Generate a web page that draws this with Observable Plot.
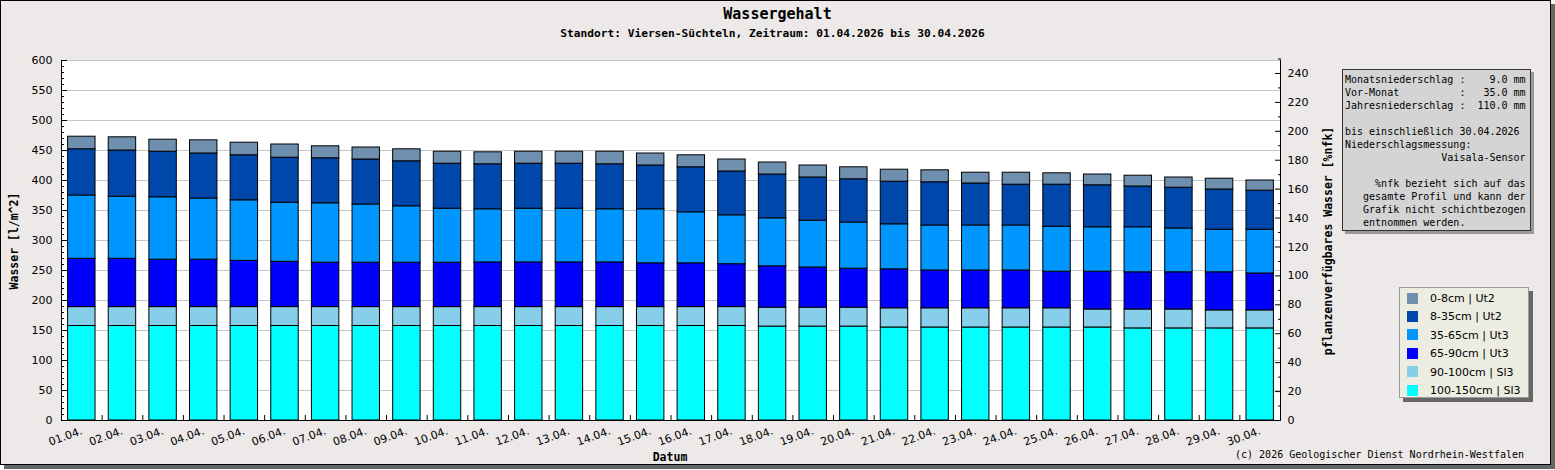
<!DOCTYPE html>
<html><head><meta charset="utf-8">
<script src="https://cdn.jsdelivr.net/npm/d3@7"></script>
<script src="https://cdn.jsdelivr.net/npm/@observablehq/plot@0.6"></script>
<style>
body{margin:0;background:#fff;}
#wrap{position:relative;width:1555px;height:470px;overflow:hidden;}
#frame{position:absolute;left:0;top:0;width:1549px;height:463px;border:1px solid #000;background:#ece9e8;box-shadow:4px 4px 0 #666;}
#wrap svg{position:absolute;left:0;top:0;}
.abs{position:absolute;white-space:pre;}
.mono{font-family:"DejaVu Sans Mono",monospace;color:#000;}
#title{left:0;width:1555px;top:6px;text-align:center;font-weight:bold;font-size:15px;line-height:16px;padding-left:0px;}
#subtitle{left:0;width:1545px;top:27px;text-align:center;font-weight:bold;font-size:11.2px;line-height:14px;}
#ylab{left:14px;top:241px;transform:translate(-50%,-50%) rotate(-90deg);font-weight:bold;font-size:11.5px;line-height:14px;}
#y2lab{left:1328px;top:241px;transform:translate(-50%,-50%) rotate(-90deg);font-weight:bold;font-size:11.5px;line-height:14px;}
#xlab{left:670px;top:457px;transform:translate(-50%,-50%);font-weight:bold;font-size:11.5px;line-height:14px;}
#copy{right:31px;top:455px;transform:translateY(-50%);font-size:10px;line-height:12px;}
#info{left:1342px;top:69px;width:187px;height:160px;border:1px solid #333;background:#d4d4d4;box-shadow:3px 3px 0 #9a9a9a;font-size:10px;line-height:13px;padding:3px 0 0 2px;box-sizing:border-box;width:189px;height:162px;}
#legend{left:1399px;top:287px;width:130px;height:111px;box-sizing:border-box;border:1px solid #9a9a9a;background:#ecece1;box-shadow:4px 4px 0 #666;}
.li{position:absolute;left:7px;height:18px;font-family:"DejaVu Sans",sans-serif;font-size:11px;line-height:18px;color:#000;white-space:nowrap;}
.sw{display:inline-block;width:11px;height:11px;vertical-align:middle;margin-right:12px;position:relative;top:-1px;}
</style>
</head><body>
<div id="wrap"><div id="frame"></div></div>
<script>
// ---- data ----
const dateLabels = ["01.04.","02.04.","03.04.","04.04.","05.04.","06.04.","07.04.","08.04.","09.04.","10.04.",
  "11.04.","12.04.","13.04.","14.04.","15.04.","16.04.","17.04.","18.04.","19.04.","20.04.",
  "21.04.","22.04.","23.04.","24.04.","25.04.","26.04.","27.04.","28.04.","29.04.","30.04."];
// layer names & colours, legend order (top layer first)
const layerNames = ["0-8cm | Ut2","8-35cm | Ut2","35-65cm | Ut3","65-90cm | Ut3","90-100cm | Sl3","100-150cm | Sl3"];
const layerColors = ["#6e8fae","#0047ab","#0096ff","#0000ff","#87ceeb","#00ffff"];
// water per layer [l/m^2]
const w0_8    = [21,22,20,22,21,22,20,20,20,20,20,20,20,21,20,20,20,20,20,20,20,20,18,20,19,18,18,17,18,17];
const w8_35   = [77,77,76,75,75,75,75,75,75,75,75,75,75,75,73,75,73,73,72,72,71,72,70,68,70,70,68,68,67,65];
const w35_65  = [105.5,103.5,104,102,101,98.5,99,97,94,90,88.5,89.5,89.5,88.5,90,85,81.5,80,78,77,75,75,75,75,75,74,75,73,71,73];
const w65_90  = [80.5,80.5,79,79,77,75.5,74,74,74,74,74.5,74.5,74.5,74.5,73,73,71.5,69,67,65,65,63,63,63,61,63,62,62,63.5,61.5];
const w90_100 = [31.5,31.5,31.5,31.5,31.5,31.5,31.5,31.5,31.5,31.5,31.5,31.5,31.5,31.5,31.5,31.5,31.5,31.5,31.5,31.5,32,32,32,32,32,30,31.5,31.5,30,30];
const w100_150= [157.5,157.5,157.5,157.5,157.5,157.5,157.5,157.5,157.5,157.5,157.5,157.5,157.5,157.5,157.5,157.5,157.5,156.5,156.5,156.5,155,155,155,155,155,155,153.5,153.5,153.5,153.5];
const layerValues = [w0_8, w8_35, w35_65, w65_90, w90_100, w100_150];
// axis ticks
const yMajor = [0,50,100,150,200,250,300,350,400,450,500,550,600];
const nfkMajor = [0,20,40,60,80,100,120,140,160,180,200,220,240];
const nfkPerWater = 2.41; // 1 %nfk corresponds to 2.41 l/m^2 on the left scale
const infoLines = [
  "Monatsniederschlag :    9.0 mm",
  "Vor-Monat          :   35.0 mm",
  "Jahresniederschlag :  110.0 mm",
  "",
  "bis einschließlich 30.04.2026",
  "Niederschlagsmessung:",
  "                Vaisala-Sensor",
  "",
  "     %nfk bezieht sich auf das",
  "   gesamte Profil und kann der",
  "   Grafik nicht schichtbezogen",
  "   entnommen werden."
];

// ---- table (bottom layer first for stacking) ----
const days = dateLabels.map((_, i) => i + 1);
const table = [];
for (let k = layerNames.length - 1; k >= 0; --k) {
  days.forEach((d, i) => table.push({day: d, layer: layerNames[k], value: layerValues[k][i]}));
}
const yMinor = d3.range(10, 600, 10).filter(v => v % 50 !== 0);
const nfkMinor = d3.range(10, 260, 20);
const boundaries = days.slice(0, -1).map(d => d + 0.5);

const chart = Plot.plot({
  width: 1555, height: 470,
  marginLeft: 61, marginRight: 275, marginTop: 60, marginBottom: 50,
  x: {domain: [0.5, 30.5]},
  y: {domain: [0, 600]},
  color: {domain: layerNames, range: layerColors},
  style: {background: "transparent", fontFamily: "DejaVu Sans, sans-serif", fontSize: "11px", color: "#000", overflow: "visible"},
  marks: [
    Plot.frame({fill: "white", stroke: "none"}),
    Plot.gridY(yMajor.slice(1), {stroke: "#c6c6c6", strokeOpacity: 1}),
    Plot.rectY(table, Plot.stackY({x: "day", x1: d => d.day - 0.5, x2: d => d.day + 0.5, y: "value", fill: "layer", stroke: "black", strokeWidth: 1, insetLeft: 6.6, insetRight: 6.6})),
    Plot.ruleY([0], {stroke: "black"}),
    Plot.ruleX([0.5, 30.5], {stroke: "black"}),
    Plot.axisY(yMajor, {anchor: "left", tickSize: -6, tickPadding: 15, label: null}),
    Plot.axisY(yMinor, {anchor: "left", tickSize: -3, fill: "none", label: null}),
    Plot.axisY(nfkMajor.map(v => v * nfkPerWater), {anchor: "right", tickSize: -6, tickPadding: 13, tickFormat: d => String(Math.round(d / nfkPerWater)), label: null}),
    Plot.axisY(nfkMinor.map(v => v * nfkPerWater), {anchor: "right", tickSize: -3, fill: "none", label: null}),
    Plot.axisX(days, {anchor: "bottom", tickSize: 0, tickPadding: 10, tickRotate: -20, tickFormat: d => dateLabels[d - 1], label: null}),
    Plot.axisX(boundaries, {anchor: "bottom", tickSize: -5, fill: "none", label: null})
  ]
});
const wrap = document.getElementById("wrap");
wrap.appendChild(chart);

function addDiv(id, cls, text) {
  const el = document.createElement("div");
  el.id = id; el.className = cls; el.textContent = text;
  wrap.appendChild(el);
  return el;
}
addDiv("title", "abs mono", "Wassergehalt");
addDiv("subtitle", "abs mono", "Standort: Viersen-Süchteln, Zeitraum: 01.04.2026 bis 30.04.2026");
addDiv("ylab", "abs mono", "Wasser [l/m^2]");
addDiv("y2lab", "abs mono", "pflanzenverfügbares Wasser [%nfk]");
addDiv("xlab", "abs mono", "Datum");
addDiv("copy", "abs mono", "(c) 2026 Geologischer Dienst Nordrhein-Westfalen");
addDiv("info", "abs mono", infoLines.join("\n"));
const legend = addDiv("legend", "abs", "");
layerNames.forEach((name, i) => {
  const row = document.createElement("div");
  row.className = "li";
  row.style.top = (2 + i * 18.4) + "px";
  const sw = document.createElement("span");
  sw.className = "sw";
  sw.style.background = layerColors[i];
  row.appendChild(sw);
  row.appendChild(document.createTextNode(name));
  legend.appendChild(row);
});
</script>
</body></html>
